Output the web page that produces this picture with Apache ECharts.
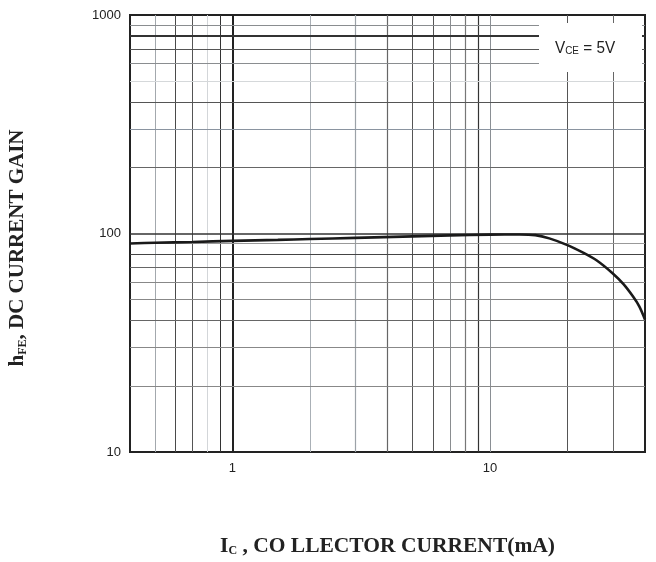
<!DOCTYPE html>
<html>
<head>
<meta charset="utf-8">
<script src="https://cdn.jsdelivr.net/npm/echarts@6/dist/echarts.min.js"></script>
<style>
html,body{margin:0;padding:0;background:#fff;}
#chart{width:656px;height:562px;}
</style>
</head>
<body>
<div id="chart"></div>
<script>
// ---- data ----
var collectorCurrent = [0.4, 0.5, 0.7, 1, 1.5, 2, 3, 5, 7, 10, 13, 15, 17, 20, 23, 26, 30, 33, 36, 38, 40];
var dcGain =           [90, 90.7, 91.5, 92.5, 93.5, 94.3, 95.5, 97, 98, 98.8, 99, 98.3, 95, 88.5, 81.7, 75.2, 65.6, 58.6, 51.3, 46.4, 40.4];
var xTickLabels = [1, 10];
var yTickLabels = [10, 100, 1000];
var xGridValues = [0.5, 0.6, 0.7, 0.8, 0.9, 1, 2, 3, 4, 5, 6, 7, 8, 9, 10, 20, 30];
var yGridValues = [20, 30, 40, 50, 60, 70, 80, 90, 100, 200, 300, 400, 500, 600, 700, 800, 900];

// ---- styles (scan-like varying gridline shades) ----
var xGridStyle = {
  0.5:['#a3a8ad',1], 0.6:['#4a4a4a',1], 0.7:['#555',1], 0.8:['#d3d6d9',1], 0.9:['#333',1],
  1:['#222',2], 2:['#aab0b6',1], 3:['#9ca2a8',1.2], 4:['#666',1.2], 5:['#555',1], 6:['#555',1],
  7:['#8a8d90',1], 8:['#777',1.2], 9:['#333',1.2], 10:['#8a8f94',1], 20:['#555',1], 30:['#666',1]
};
var yGridStyle = {
  900:['#8a8d90',1.2], 800:['#333',2], 700:['#555',1], 600:['#8a8d90',1], 500:['#d5d8da',1],
  400:['#555',1], 300:['#8a94a0',1], 200:['#666',1], 100:['#333',1.5], 90:['#999',1],
  80:['#444',1], 70:['#666',1], 60:['#888',1], 50:['#888',1], 40:['#666',1], 30:['#888',1], 20:['#888',1]
};

function inList(v, list){
  for (var i=0;i<list.length;i++){ if (Math.abs(v-list[i]) < 1e-6*list[i]) return true; }
  return false;
}

var gridLines = [];
xGridValues.forEach(function(v){
  var s = xGridStyle[v] || ['#777',1];
  gridLines.push({xAxis: v, lineStyle:{color:s[0], width:s[1], type:'solid'}});
});
yGridValues.forEach(function(v){
  var s = yGridStyle[v] || ['#777',1];
  gridLines.push({yAxis: v, lineStyle:{color:s[0], width:s[1], type:'solid'}});
});

var chart = echarts.init(document.getElementById('chart'), null, {renderer:'canvas'});
var option = {
  animation: false,
  backgroundColor: '#fff',
  grid: {left:130, top:15, width:515, height:445, show:true, borderColor:'#222', borderWidth:2, backgroundColor:'transparent'},
  xAxis: {
    type:'log', logBase:10, min:0.4, max:40,
    axisLine:{show:false}, axisTick:{show:false}, splitLine:{show:false}, minorSplitLine:{show:false},
    axisLabel:{
      showMinLabel:true, showMaxLabel:true, margin:10,
      fontFamily:'Liberation Sans', fontSize:13, color:'#222',
      formatter:function(v){ return inList(v, xTickLabels) ? String(Math.round(v)) : ''; }
    },
    name:'{m|I}{s|C}{m| , CO LLECTOR CURRENT(mA)}',
    nameLocation:'middle', nameGap:83,
    nameTextStyle:{
      rich:{
        m:{fontFamily:'Liberation Serif', fontWeight:'bold', fontSize:21.5, color:'#222'},
        s:{fontFamily:'Liberation Serif', fontWeight:'bold', fontSize:12, color:'#222', verticalAlign:'bottom', padding:[8,0,0,0]}
      }
    }
  },
  yAxis: {
    type:'log', logBase:10, min:10, max:1000,
    axisLine:{show:false}, axisTick:{show:false}, splitLine:{show:false}, minorSplitLine:{show:false},
    axisLabel:{
      margin:9, fontFamily:'Liberation Sans', fontSize:13, color:'#222',
      formatter:function(v){ return inList(v, yTickLabels) ? String(Math.round(v)) : ''; }
    }
  },
  series: [
    {
      type:'line', data:[], z:1, silent:true,
      markLine:{
        silent:true, symbol:['none','none'], animation:false, z:1,
        label:{show:false}, emphasis:{disabled:true},
        data: gridLines
      }
    },
    {
      type:'line', z:10, silent:true,
      data: collectorCurrent.map(function(x,i){ return [x, dcGain[i]]; }),
      smooth:0.3, showSymbol:false, symbol:'none',
      lineStyle:{color:'#1a1a1a', width:2.6}
    }
  ],
  graphic: [
    {type:'rect', z:50, shape:{x:539, y:23, width:103, height:49}, style:{fill:'#fff'}},
    {type:'text', z:51, x:555, y:48, scaleX:0.9,
      style:{
        text:'{v|V}{s|CE}{v| = 5V}', verticalAlign:'middle', align:'left',
        rich:{
          v:{fontFamily:'Liberation Sans', fontSize:17, fill:'#222'},
          s:{fontFamily:'Liberation Sans', fontSize:11, fill:'#222', verticalAlign:'bottom', padding:[6,0,0,0]}
        }
      }
    },
    {type:'text', z:51, x:18, y:248, rotation:Math.PI/2,
      style:{
        text:'{m|h}{s|FE}{m|, DC CURRENT GAIN}', align:'center', verticalAlign:'middle',
        rich:{
          m:{fontFamily:'Liberation Serif', fontWeight:'bold', fontSize:21, fill:'#222'},
          s:{fontFamily:'Liberation Serif', fontWeight:'bold', fontSize:12, fill:'#222', verticalAlign:'bottom', padding:[8,0,0,0]}
        }
      }
    }
  ]
};
chart.setOption(option);
</script>
</body>
</html>
